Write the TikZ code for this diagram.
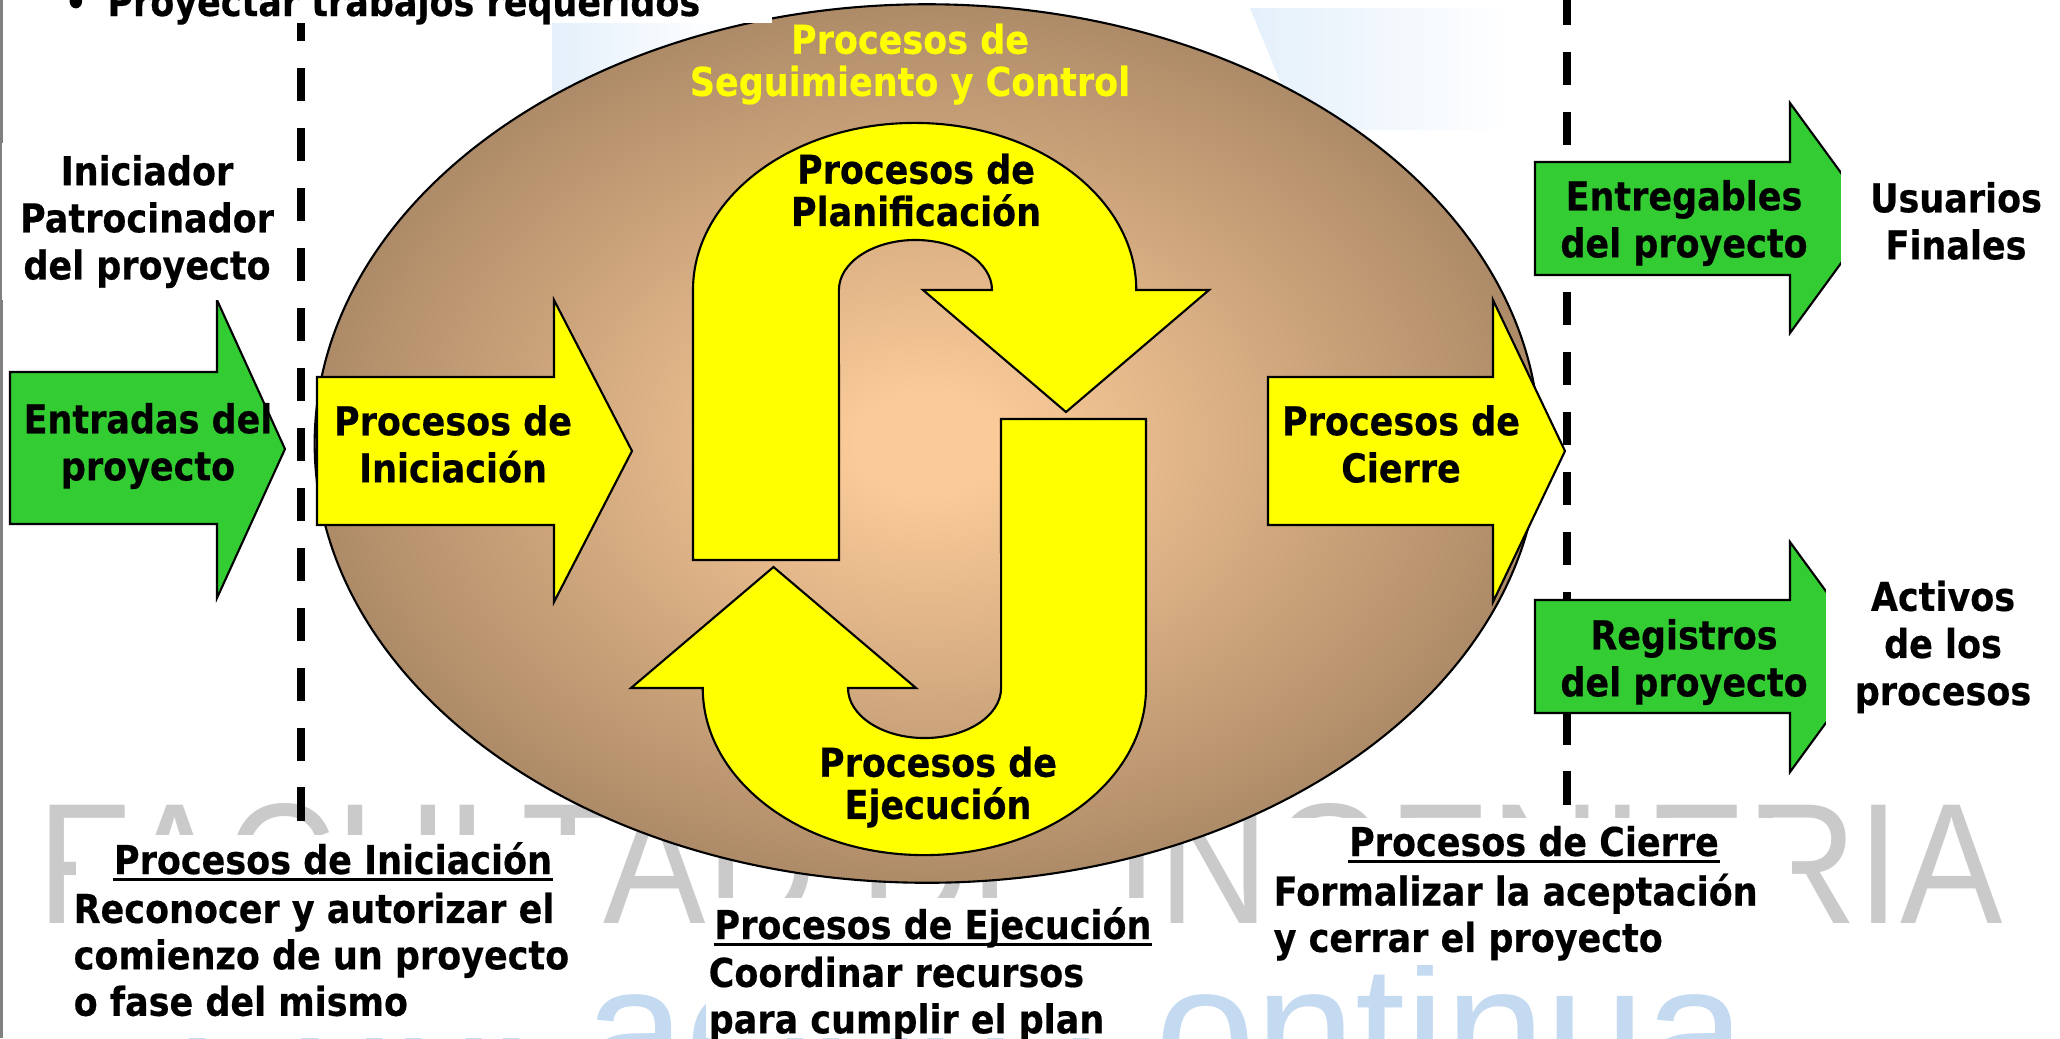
\documentclass[tikz,border=0pt]{standalone}
\usepackage{fontspec}
\newfontfamily\tahoma{DejaVu Sans Bold}[FakeStretch=0.88, FakeBold=0.4]
\newfontfamily\wmfont{Liberation Sans}
\definecolor{procyellow}{RGB}{255,255,0}
\definecolor{procgreen}{RGB}{51,204,51}
\definecolor{eggin}{RGB}{250,202,152}
\definecolor{eggout}{RGB}{174,139,104}
\definecolor{wmgray}{RGB}{202,202,202}
\definecolor{wmblue}{RGB}{196,218,240}
\definecolor{wmsky}{RGB}{228,240,251}
\pgfdeclareradialshading{eggshade}{\pgfpoint{0bp}{0bp}}{color(0bp)=(eggin); color(3bp)=(eggin); color(25bp)=(eggout); color(50bp)=(eggout)}

\begin{document}
\begin{tikzpicture}[x=0.01cm, y=0.01cm,
    lbl/.style={font=\tahoma\fontsize{11.3}{13.4}\selectfont, align=center, inner sep=0pt},
    inlbl/.style={font=\tahoma\fontsize{11.3}{12}\selectfont, align=center, inner sep=0pt},
    body/.style={font=\tahoma\fontsize{11.3}{13.2}\selectfont, align=left, inner sep=0pt, anchor=north west},
    cover/.style={fill=white},
    yarrow/.style={draw=black, line width=0.6pt, fill=procyellow},
    garrow/.style={draw=black, line width=0.6pt, fill=procgreen},
    sepline/.style={line width=2.28pt, dash pattern=on 9.5pt off 7.55pt},
    uline/.style={line width=0.8pt}
  ]
  \useasboundingbox (0,0) rectangle (2060,-1038);
  \clip (0,0) rectangle (2060,-1038);

  % watermark
  \node[anchor=base west, inner sep=0pt, text=wmgray, xscale=0.893, font=\wmfont\fontsize{48.9}{50}\selectfont] (facultad) at (37,-923) {FACULTAD DE INGENIERIA};
  \node[anchor=base west, inner sep=0pt, text=wmblue, font=\wmfont\fontsize{51.2}{52}\selectfont] (continua) at (174,-1091) {Educación continua};
  \shade[left color=wmsky, right color=white] (1250,-8) -- (1513,-8) -- (1513,-130) -- (1300,-130) -- cycle;
  \shade[left color=wmsky, right color=white] (552,-23) -- (720,-23) -- (552,-140) -- cycle;
  \draw[gray, line width=0.6pt] (1.5,0) -- (1.5,-1038);

  \draw[sepline] (301,-8) -- (301,-822);
  \draw[sepline] (1567,8) -- (1567,-805);

  \shadedraw[shading=eggshade, draw=black, line width=0.6pt] (927,-443.5) ellipse [x radius=6.12cm, y radius=4.39cm];

  % ciclo planificacion / ejecucion
  \draw[yarrow] (693,-560) -- (693,-290) arc[start angle=180, end angle=0, x radius=2.215cm, y radius=1.67cm]
    -- (1209,-290) -- (1066,-412) -- (923,-290) -- (992,-290)
    arc[start angle=0, end angle=180, x radius=0.765cm, y radius=0.5cm] -- (839,-560) -- cycle;
  \draw[yarrow] (1146,-419) -- (1146,-688) arc[start angle=0, end angle=-180, x radius=2.215cm, y radius=1.67cm]
    -- (631,-688) -- (773.5,-567) -- (916,-688) -- (848,-688)
    arc[start angle=180, end angle=360, x radius=0.765cm, y radius=0.5cm] -- (1001,-419) -- cycle;

  \draw[yarrow] (317,-377) -- (554,-377) -- (554,-300) -- (632,-451) -- (554,-602) -- (554,-525) -- (317,-525) -- cycle;
  \draw[yarrow] (1268,-377) -- (1493,-377) -- (1493,-300) -- (1565,-451) -- (1493,-602) -- (1493,-525) -- (1268,-525) -- cycle;

  \draw[garrow] (10,-372) -- (217,-372) -- (217,-300) -- (285,-449) -- (217,-598) -- (217,-524) -- (10,-524) -- cycle;
  \draw[garrow] (1535,-162) -- (1790,-162) -- (1790,-103) -- (1874,-218) -- (1790,-333) -- (1790,-275) -- (1535,-275) -- cycle;
  \draw[garrow] (1535,-600) -- (1790,-600) -- (1790,-542) -- (1874,-657) -- (1790,-772) -- (1790,-713) -- (1535,-713) -- cycle;

  % cajas blancas
  \fill[white] (4,0) rectangle (772,-23);
  \fill[white] (76,-835) rectangle (595,-1038);
  \fill[white] (706,-898) rectangle (1161,-1038);
  \fill[white] (1273,-818) rectangle (1792,-965);

  \node[lbl, anchor=base west] (topline) at (64,-16) {\textbullet\hspace{5.8pt}Proyectar trabajos requeridos};

  \node[lbl, cover, minimum width=2.9cm, minimum height=1.57cm] (iniciador) at (147,-221.5) {Iniciador\\Patrocinador\\del proyecto};
  \node[lbl] (entradas) at (148,-446) {Entradas del\\proyecto};
  \node[lbl] (ini) at (453,-444) {Procesos de\\Iniciación};
  \node[lbl] (cie) at (1401,-444) {Procesos de\\Cierre};
  \node[inlbl, text=procyellow] (seg) at (910,-64) {Procesos de\\Seguimiento y Control};
  \node[inlbl] (plan) at (916,-190) {Procesos de\\Planificación};
  \node[inlbl] (ejec) at (938,-787) {Procesos de\\Ejecución};
  \node[lbl] (entregables) at (1684,-223) {Entregables\\del proyecto};
  \node[lbl, cover, minimum width=2.3cm, minimum height=1.45cm] (usuarios) at (1956,-221) {Usuarios\\Finales};
  \node[lbl] (registros) at (1684,-662) {Registros\\del proyecto};
  \node[lbl, cover, minimum width=2.34cm, minimum height=1.8cm] (activos) at (1943,-647) {Activos\\de los\\procesos};

  \node[lbl, anchor=base] (iniHead) at (333,-874) {Procesos de Iniciación};
  \draw[uline] ([yshift=-1.6pt]iniHead.base west) -- ([yshift=-1.6pt]iniHead.base east);
  \node[body] (iniText) at (73,-892) {Reconocer y autorizar el\\comienzo de un proyecto\\o fase del mismo};

  \node[lbl, anchor=base] (ejecHead) at (933,-939) {Procesos de Ejecución};
  \draw[uline] ([yshift=-1.6pt]ejecHead.base west) -- ([yshift=-1.6pt]ejecHead.base east);
  \node[body] (ejecText) at (708,-956) {Coordinar recursos\\para cumplir el plan};

  \node[lbl, anchor=base] (cieHead) at (1534,-856) {Procesos de Cierre};
  \draw[uline] ([yshift=-1.6pt]cieHead.base west) -- ([yshift=-1.6pt]cieHead.base east);
  \node[body] (cieText) at (1273,-873) {Formalizar la aceptación\\y cerrar el proyecto};
\end{tikzpicture}
\end{document}
